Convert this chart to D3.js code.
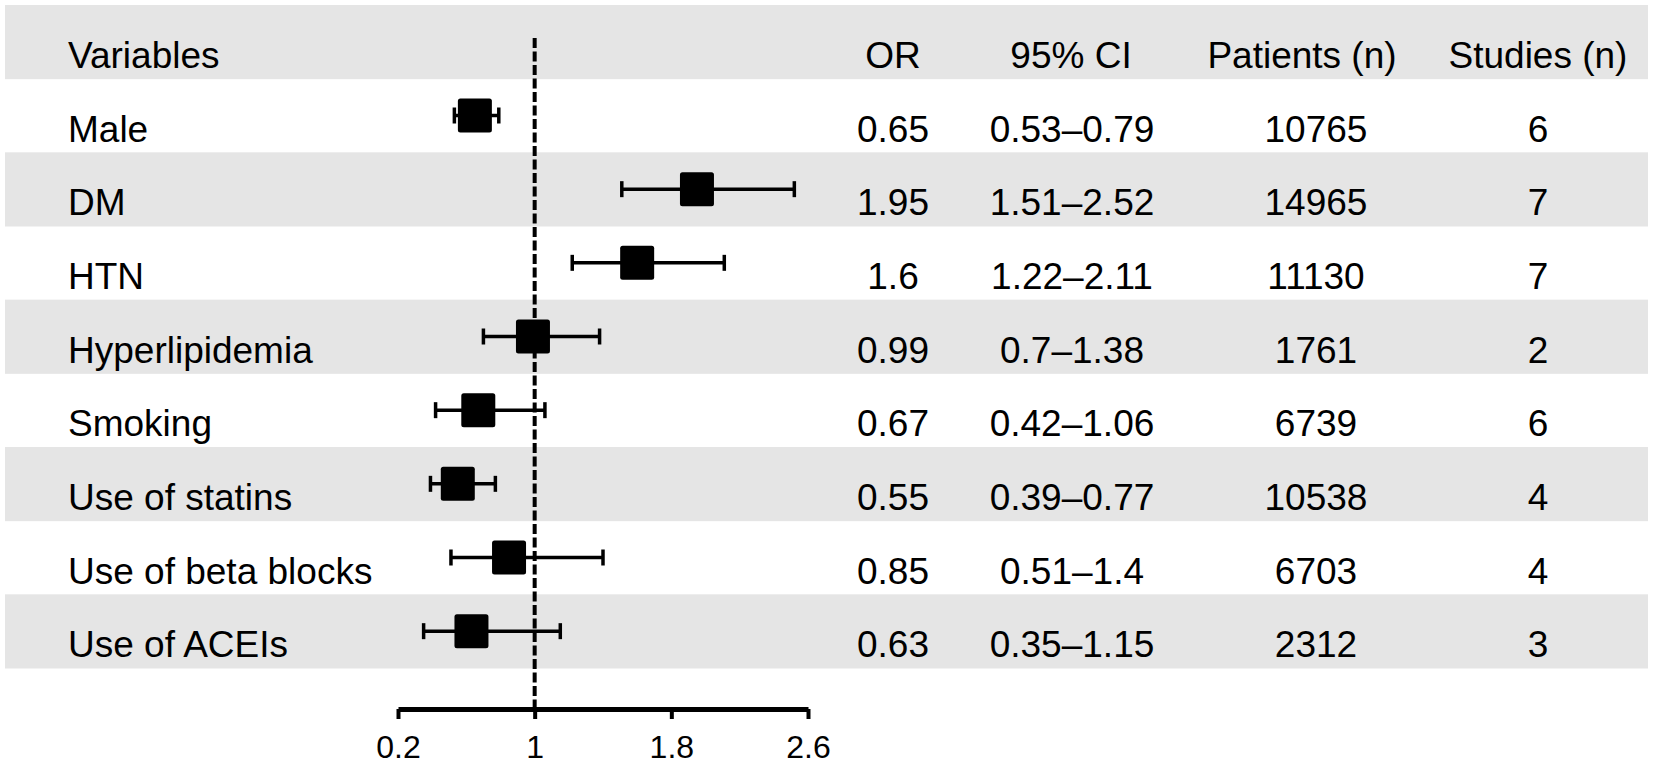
<!DOCTYPE html>
<html><head><meta charset="utf-8">
<script src="https://cdn.jsdelivr.net/npm/d3@7"></script>
<style>html,body{margin:0;padding:0;background:#fff;}svg{display:block;}</style>
</head><body>
<script>
const variables = ["Male","DM","HTN","Hyperlipidemia","Smoking","Use of statins","Use of beta blocks","Use of ACEIs"];
const orValues = [0.65,1.95,1.6,0.99,0.67,0.55,0.85,0.63];
const ciLower = [0.53,1.51,1.22,0.7,0.42,0.39,0.51,0.35];
const ciUpper = [0.79,2.52,2.11,1.38,1.06,0.77,1.4,1.15];
const ciLabels = ["0.53–0.79","1.51–2.52","1.22–2.11","0.7–1.38","0.42–1.06","0.39–0.77","0.51–1.4","0.35–1.15"];
const orLabels = ["0.65","1.95","1.6","0.99","0.67","0.55","0.85","0.63"];
const patients = ["10765","14965","11130","1761","6739","10538","6703","2312"];
const studies = ["6","7","7","2","6","4","4","3"];
const headers = ["Variables","OR","95% CI","Patients (n)","Studies (n)"];
const xTicks = [0.2,1,1.8,2.6];

const W=1654,H=766;
const svg=d3.select("body").append("svg").attr("width",W).attr("height",H);
const font="'Liberation Sans', Arial, sans-serif";

const rowsAll=["__header__",...variables];
const y=d3.scaleBand().domain(rowsAll).range([5,668]).padding(0);
const x=d3.scaleLinear().domain([0.2,2.6]).range([398,808]);

// bands
svg.selectAll("rect.band").data(rowsAll.filter((d,i)=>i%2===0)).enter().append("rect")
  .attr("x",5).attr("width",1643).attr("y",d=>y(d)).attr("height",y.bandwidth()+0.5)
  .attr("fill","#e5e5e5");

// reference line
svg.append("line").attr("x1",x(1)).attr("x2",x(1)).attr("y1",38).attr("y2",707)
  .attr("stroke","#000").attr("stroke-width",4).attr("stroke-dasharray","10,3.5");

const data=variables.map((v,i)=>({v,or:orValues[i],lo:ciLower[i],hi:ciUpper[i]}));
const g=svg.append("g");
const cy=d=>y(d.v)+y.bandwidth()/2;
g.selectAll("line.ci").data(data).enter().append("line")
  .attr("x1",d=>x(d.lo)).attr("x2",d=>x(d.hi)).attr("y1",cy).attr("y2",cy)
  .attr("stroke","#000").attr("stroke-width",3.5);
["lo","hi"].forEach(k=>{
  g.selectAll("line.cap"+k).data(data).enter().append("line")
   .attr("x1",d=>x(d[k])).attr("x2",d=>x(d[k])).attr("y1",d=>cy(d)-8).attr("y2",d=>cy(d)+8)
   .attr("stroke","#000").attr("stroke-width",3.5);
});
const bs=34;
g.selectAll("rect.box").data(data).enter().append("rect")
  .attr("x",d=>x(d.or)-bs/2).attr("y",d=>cy(d)-bs/2).attr("width",bs).attr("height",bs)
  .attr("rx",2.5).attr("fill","#000");

// text
const fs=37;
const colX={var:68,or:893,ci:1072,pat:1316,stu:1538};
const hdrX=[68,893,1071,1302,1538];
const base=r=>y(r)+63;
headers.forEach((h,i)=>{
  svg.append("text").attr("x",hdrX[i]).attr("y",base("__header__"))
   .attr("text-anchor",i===0?"start":"middle").attr("font-family",font).attr("font-size",fs).text(h);
});
const addCol=(arr,xx,anchor)=>svg.selectAll(null).data(arr).enter().append("text")
  .attr("x",xx).attr("y",(d,i)=>base(variables[i])).attr("text-anchor",anchor)
  .attr("font-family",font).attr("font-size",fs).attr("fill","#000").text(d=>d);
addCol(variables,colX.var,"start");
addCol(orLabels,colX.or,"middle");
addCol(ciLabels,colX.ci,"middle");
addCol(patients,colX.pat,"middle");
addCol(studies,colX.stu,"middle");

// axis
const ax=svg.append("g").attr("transform","translate(0,709)")
  .call(d3.axisBottom(x).tickValues(xTicks).tickFormat(d3.format("~g")).tickSize(10).tickSizeOuter(0).tickPadding(16));
ax.select(".domain").attr("stroke","#000").attr("stroke-width",5);
ax.selectAll(".tick line").attr("stroke","#000").attr("stroke-width",4);
ax.selectAll(".tick text").attr("font-family",font).attr("font-size",32).attr("fill","#000");
</script>
</body></html>
